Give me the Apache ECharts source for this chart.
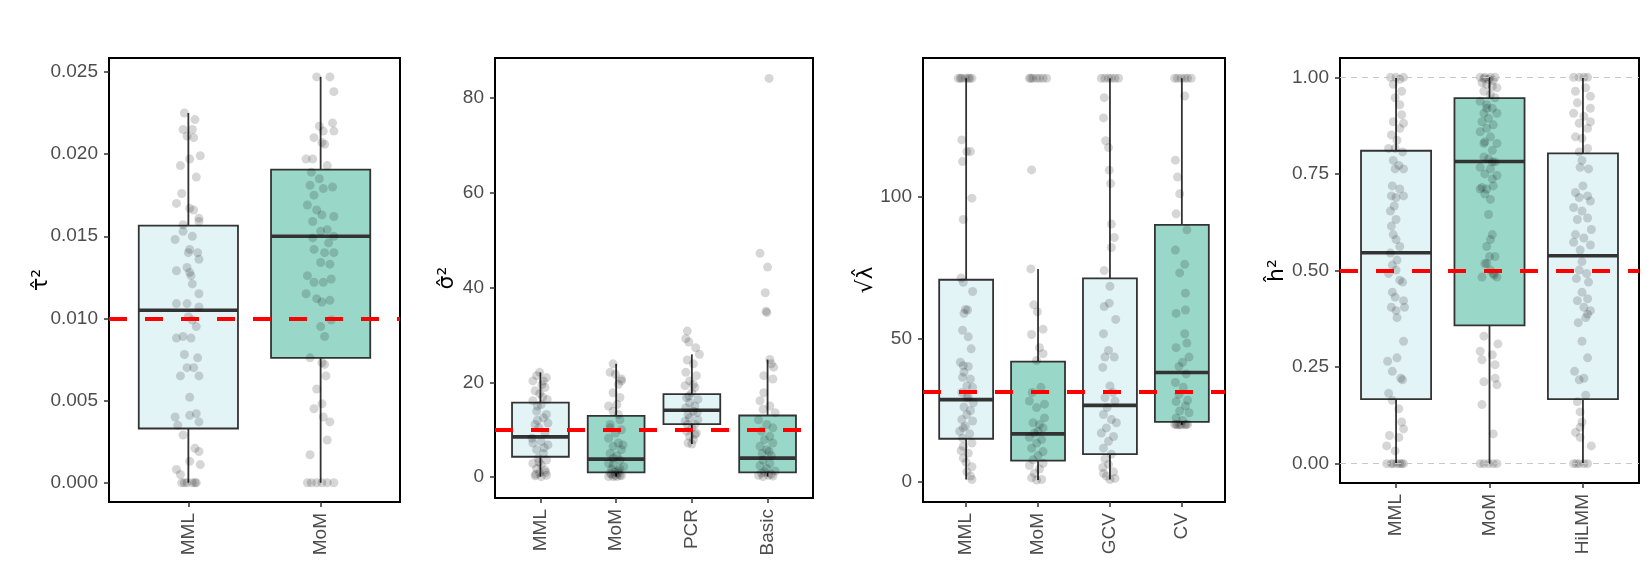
<!DOCTYPE html>
<html>
<head>
<meta charset="utf-8">
<script src="https://cdn.jsdelivr.net/npm/echarts@6/dist/echarts.min.js"></script>
<style>
  html, body { margin: 0; padding: 0; background: #fff; }
  #main { width: 1650px; height: 569px; }
</style>
</head>
<body>
<div id="main"></div>
<script>
// panel 1: tau^2
var tauCats = ['MML', 'MoM'];
var tauLow = [0, 0];
var tauQ1 = [0.0033, 0.0076];
var tauMed = [0.0105, 0.0150];
var tauQ3 = [0.01565, 0.01905];
var tauHigh = [0.0225, 0.0247];
var tauTicks = [0, 0.005, 0.01, 0.015, 0.02, 0.025];
var tauTrue = 0.01;
// jittered points: [offset from category, value]
var tauPtsMML = [[-0.03,0.0225],[0.05,0.0221],[-0.04,0.0215],[0.03,0.0215],[-0.01,0.0211],[0.04,0.0210],[0.09,0.0199],[0.01,0.0197],[-0.06,0.0193],[0.06,0.0186],[-0.05,0.0176],[-0.09,0.0170],[0.01,0.0167],[0.04,0.0166],[0.08,0.0161],[0.08,0.0159],[-0.04,0.0157],[-0.04,0.0153],[0.03,0.0150],[-0.10,0.0148],[0.01,0.0142],[0,0.0140],[0.07,0.0140],[0.08,0.0136],[-0.09,0.0129],[-0.01,0.0131],[0.01,0.0128],[0.02,0.0126],[0.03,0.0121],[0.08,0.0115],[-0.09,0.0109],[-0.01,0.0109],[0.08,0.0107],[0,0.0101],[0.03,0.0099],[0.06,0.0095],[-0.09,0.0088],[-0.04,0.0089],[0.02,0.0088],[-0.03,0.0078],[0.07,0.0076],[-0.01,0.0070],[0.04,0.0070],[-0.06,0.0065],[0.08,0.0065],[0.01,0.0052],[-0.10,0.0040],[0.01,0.0041],[0.06,0.0042],[-0.08,0.0035],[0.08,0.0037],[-0.04,0.0029],[0.05,0.0021],[0.08,0.0019],[0.01,0.0013],[0.09,0.0011],[-0.09,0.0008],[-0.06,0.0005],[-0.05,0],[-0.01,0],[0.03,0],[0.06,0],[-0.03,0],[0.05,0]];
var tauPtsMoM = [[-0.03,0.0247],[0.07,0.0247],[0.10,0.0238],[-0.01,0.0217],[0.09,0.0219],[0.10,0.0214],[0.02,0.0214],[-0.05,0.0210],[0.01,0.0207],[0.03,0.0206],[-0.06,0.0197],[-0.11,0.0197],[0.05,0.0193],[-0.07,0.0189],[-0.01,0.0185],[-0.08,0.0181],[0.09,0.0180],[0.02,0.0179],[-0.05,0.0175],[-0.10,0.0169],[-0.03,0.0166],[0.01,0.0163],[0.10,0.0162],[-0.06,0.0159],[0.05,0.0154],[0,0.0153],[0.10,0.0150],[-0.06,0.0149],[0.06,0.0146],[-0.05,0.0142],[0.03,0.0140],[0.10,0.0140],[0,0.0134],[0.07,0.0133],[-0.10,0.0126],[-0.05,0.0122],[0.02,0.0122],[0.08,0.0124],[-0.11,0.0115],[-0.03,0.0112],[0.01,0.0110],[0.07,0.0111],[0,0.0095],[0.08,0.0099],[0.03,0.0089],[-0.08,0.0076],[0.01,0.0073],[0.03,0.0072],[0.04,0.0065],[-0.03,0.0057],[0.01,0.0048],[-0.05,0.0045],[0.02,0.0040],[0.07,0.0037],[0.05,0.0026],[-0.08,0.0017],[-0.07,0],[-0.03,0],[0.01,0],[0.05,0],[0.10,0],[-0.10,0]];

// panel 2: sigma^2
var sigCats = ['MML', 'MoM', 'PCR', 'Basic'];
var sigLow = [0.1, 0.1, 7.0, 0.1];
var sigQ1 = [4.3, 1.0, 11.2, 1.0];
var sigMed = [8.5, 3.8, 14.1, 4.0];
var sigQ3 = [15.7, 12.9, 17.5, 13.0];
var sigHigh = [22.1, 23.9, 25.9, 24.8];
var sigTicks = [0, 20, 40, 60, 80];
var sigTrue = 10;
var sigPtsMML = [[-0.01,22.1],[-0.05,21.4],[0.08,21.0],[0.04,20.3],[-0.07,18.2],[-0.01,17.6],[0.06,18.9],[-0.10,16.1],[0.01,15.3],[-0.05,13.9],[0.08,13.2],[0.04,12.5],[-0.07,11.1],[-0.02,10.4],[0.06,9.3],[-0.10,7.2],[0.01,7.5],[0.10,6.8],[-0.05,5.8],[0.04,5.0],[-0.03,4.0],[0.08,3.6],[-0.10,2.9],[0.01,2.6],[-0.05,1.8],[0.06,1.5],[-0.01,0.9],[0.08,0.4],[-0.07,0.3],[0.01,0.1],[-0.11,8.2],[0.10,11.4],[-0.04,15.0],[0.03,16.9],[0.09,16.4],[-0.10,20.3],[0.02,19.5],[-0.04,12.0],[0.05,6.2],[-0.02,3.2],[0.07,1.0],[-0.06,0.6]];
var sigPtsMoM = [[-0.04,23.9],[-0.08,22.1],[0.07,20.3],[0.03,19.6],[-0.04,17.8],[0.05,16.8],[0.01,15.3],[-0.10,15.0],[-0.04,13.9],[0.05,12.1],[-0.08,11.1],[0.07,10.0],[-0.01,9.3],[-0.10,8.2],[0.03,7.2],[-0.04,6.5],[0.07,5.8],[-0.08,5.0],[0.01,4.5],[0.05,3.6],[-0.10,2.9],[-0.04,2.6],[0.10,2.2],[-0.06,1.7],[0.03,1.3],[-0.08,0.8],[-0.01,0.4],[0.07,0.3],[-0.10,0.1],[0.01,0.1],[0.05,1.8],[-0.04,4.0],[0.09,6.8],[-0.08,10.4],[0.03,13.2],[-0.01,21.7],[0.07,20.7],[-0.06,0.6],[0.03,0.8],[-0.01,1.1],[0.05,0.4],[-0.04,0.1]];
var sigPtsPCR = [[-0.06,30.8],[-0.08,29.2],[-0.04,28.5],[0.05,27.3],[0.10,25.9],[-0.06,24.7],[0.02,23.9],[-0.08,22.1],[0.06,21.4],[-0.03,20.3],[-0.09,19.3],[0.04,18.9],[0,17.8],[-0.07,16.8],[0.08,16.4],[-0.03,15.7],[0.04,15.0],[-0.08,14.6],[0.02,13.9],[-0.05,13.2],[0.07,13.6],[-0.03,12.5],[-0.09,11.8],[0.04,11.1],[0,10.4],[-0.07,9.7],[0.06,9.3],[-0.03,8.6],[0.02,7.9],[-0.05,7.2],[0,7.0],[0.04,9.0],[-0.06,11.1],[0.08,12.1],[-0.04,17.1],[0.02,19.6]];
var sigPtsBasic = [[0.02,84.1],[-0.10,47.2],[0,44.3],[-0.03,38.9],[-0.02,35.0],[-0.01,34.7],[0.03,24.8],[0.05,23.9],[0.08,23.2],[-0.05,21.4],[0.07,20.7],[-0.05,17.8],[-0.10,16.1],[0.03,15.0],[-0.06,14.3],[0.10,13.6],[-0.12,12.1],[-0.01,11.1],[0.07,10.4],[-0.08,9.7],[0.03,8.6],[-0.04,7.9],[0.07,7.2],[-0.10,6.5],[-0.01,5.8],[-0.07,5.0],[0.05,4.5],[-0.06,3.6],[0.03,2.9],[-0.10,2.4],[-0.01,1.8],[0.10,1.3],[-0.08,0.8],[0.01,0.4],[0.07,0.2],[-0.06,0.1],[-0.12,0.4],[0.05,0.6],[-0.04,1.1],[0.02,5.4]];

// panel 3: sqrt(lambda)
var lamCats = ['MML', 'MoM', 'GCV', 'CV'];
var lamLow = [0.8, 0.6, 0.8, 20.0];
var lamQ1 = [15.1, 7.4, 9.7, 21.0];
var lamMed = [28.8, 16.8, 26.8, 38.3];
var lamQ3 = [70.8, 42.1, 71.3, 90.0];
var lamHigh = [141.4, 74.6, 141.4, 141.4];
var lamTicks = [0, 50, 100];
var lamTrue = 31.62;
var lamPtsMML = [[-0.11,141.4],[-0.06,141.4],[-0.01,141.4],[0.03,141.4],[0.08,141.4],[-0.08,141.4],[0.05,141.4],[-0.06,119.8],[0.01,115.7],[0.06,115.7],[-0.05,112.2],[0.08,99.4],[-0.04,91.9],[-0.07,71.4],[-0.04,69.9],[0.09,66.7],[-0.01,60.4],[0.02,60.2],[-0.03,59.0],[-0.05,53.1],[0.03,50.8],[0.07,46.6],[-0.08,41.9],[-0.04,40.7],[0.03,40.4],[-0.03,38.4],[-0.05,36.6],[0.06,36.0],[0.01,33.6],[0.09,33.1],[-0.06,31.3],[0.03,29.8],[0.10,27.7],[-0.03,26.2],[0.06,25.0],[0.01,23.6],[-0.06,21.8],[0.09,21.3],[-0.01,19.5],[-0.09,17.7],[0.05,16.8],[-0.05,15.3],[0.08,13.6],[-0.04,12.4],[-0.07,10.9],[0.03,10.0],[-0.04,8.3],[0,6.8],[0.08,5.3],[0.01,3.5],[0.06,2.0],[0.08,0.8],[-0.04,18.9],[0.01,29.5]];
var lamPtsMoM = [[-0.12,141.4],[-0.07,141.4],[-0.02,141.4],[0.02,141.4],[0.07,141.4],[0.12,141.4],[-0.10,141.4],[-0.09,109.3],[-0.10,74.6],[-0.06,62.0],[-0.01,59.6],[0.07,53.5],[-0.09,51.6],[0.02,47.0],[0.07,44.9],[-0.02,42.5],[0.04,33.1],[-0.08,31.3],[0.09,27.2],[-0.02,26.0],[-0.07,20.7],[0.02,20.1],[0.07,18.9],[-0.05,17.1],[-0.12,15.6],[0.05,14.8],[-0.02,13.6],[-0.09,11.8],[0.07,10.6],[0,9.2],[-0.07,7.7],[0.07,6.5],[-0.12,5.7],[0.02,4.5],[-0.05,3.0],[-0.09,1.4],[0.05,0.8],[-0.02,0.6],[0.09,22.4],[-0.12,28.3],[0,17.7]];
var lamPtsGCV = [[-0.12,141.4],[-0.07,141.4],[-0.02,141.4],[0.02,141.4],[0.07,141.4],[0.12,141.4],[-0.08,134.6],[-0.09,127.5],[-0.06,119.5],[-0.02,117.1],[-0.01,109.2],[0.01,104.5],[0.02,90.3],[0.06,85.6],[0.02,82.1],[-0.08,74.0],[0,68.5],[-0.08,61.4],[-0.01,62.6],[0.08,56.9],[-0.09,51.9],[-0.02,46.0],[0.06,43.7],[-0.07,43.7],[-0.10,40.1],[0,33.6],[0.04,31.3],[-0.07,29.5],[0.07,28.3],[-0.04,26.0],[-0.09,23.6],[0.02,21.8],[0.09,20.7],[-0.05,18.9],[-0.12,17.1],[0.05,15.9],[-0.02,14.2],[-0.09,11.8],[0.02,9.7],[-0.07,8.0],[-0.02,6.1],[-0.10,5.0],[0.05,3.5],[-0.05,2.0],[0,0.8],[0.07,1.2],[-0.09,3.0]];
var lamPtsCV = [[-0.10,141.4],[-0.06,141.4],[-0.01,141.4],[0.04,141.4],[0.08,141.4],[0.13,141.4],[0.04,135.2],[-0.09,112.7],[-0.06,106.8],[-0.03,100.9],[-0.08,93.9],[0.07,88.3],[-0.09,81.2],[0.04,76.2],[-0.03,73.2],[0.05,66.1],[-0.08,59.0],[0.05,60.2],[0.04,51.9],[0.07,48.6],[-0.08,47.0],[0.10,43.7],[0.01,41.9],[-0.04,40.4],[0.06,37.8],[-0.09,34.8],[0.02,33.1],[-0.04,30.7],[0.08,28.6],[-0.08,28.1],[0.05,26.6],[-0.03,24.8],[0.10,24.2],[-0.08,22.4],[0.01,21.5],[-0.10,20.2],[-0.06,20.0],[-0.01,20.0],[0.04,20.1],[0.08,20.2],[-0.03,20.0],[-0.08,20.1],[0.06,20.0]];

// panel 4: h^2
var hCats = ['MML', 'MoM', 'HiLMM'];
var hLow = [0, 0, 0];
var hQ1 = [0.167, 0.358, 0.167];
var hMed = [0.546, 0.782, 0.538];
var hQ3 = [0.810, 0.946, 0.803];
var hHigh = [1, 1, 1];
var hTicks = [0, 0.25, 0.5, 0.75, 1];
var hTrue = 0.5;
var hPtsMML = [[-0.06,1],[0,1],[0.08,1],[0.04,0.995],[-0.03,0.982],[0.06,0.964],[-0.01,0.947],[0.04,0.929],[0.06,0.903],[-0.03,0.885],[0.08,0.881],[0.04,0.868],[-0.05,0.851],[0.01,0.837],[-0.08,0.816],[-0.01,0.816],[0.07,0.807],[-0.03,0.785],[0.03,0.772],[-0.01,0.763],[0.08,0.763],[-0.04,0.719],[0.04,0.711],[-0.05,0.693],[0,0.689],[0.08,0.693],[-0.02,0.667],[-0.06,0.654],[0,0.632],[-0.05,0.615],[-0.03,0.593],[0,0.580],[0.04,0.562],[-0.06,0.545],[0.01,0.527],[-0.04,0.514],[0,0.501],[-0.08,0.492],[0.04,0.475],[0.07,0.470],[-0.04,0.444],[-0.01,0.431],[0.08,0.422],[-0.05,0.405],[0.09,0.405],[0.01,0.378],[0,0.396],[0.08,0.317],[-0.09,0.265],[-0.04,0.239],[0.01,0.274],[0.05,0.221],[0.07,0.217],[-0.08,0.182],[-0.04,0.164],[0.03,0.142],[0.06,0.108],[0.08,0.090],[-0.07,0.073],[0.03,0.068],[-0.10,0.046],[-0.01,0.033],[-0.10,0],[-0.05,0],[0.01,0],[0.06,0],[0.08,0],[-0.03,0],[0.04,0]];
var hPtsMoM = [[-0.10,1],[-0.05,1],[0.01,1],[0.06,1],[-0.06,0.997],[-0.01,0.995],[0.04,0.992],[-0.08,0.986],[-0.03,0.982],[0.03,0.977],[0.08,0.973],[-0.06,0.964],[0.01,0.955],[0.06,0.947],[-0.10,0.938],[-0.03,0.929],[0.03,0.920],[-0.06,0.907],[0.08,0.907],[-0.01,0.894],[-0.08,0.885],[0.04,0.877],[-0.03,0.868],[-0.10,0.859],[0.01,0.846],[-0.05,0.833],[0.08,0.829],[0.03,0.811],[-0.06,0.794],[-0.01,0.789],[0.06,0.781],[-0.10,0.767],[0.01,0.763],[-0.05,0.750],[0.08,0.746],[0.03,0.737],[-0.08,0.715],[-0.03,0.711],[0.04,0.719],[0.01,0.684],[-0.05,0.698],[-0.01,0.645],[0.03,0.593],[0.01,0.580],[-0.03,0.562],[0.06,0.536],[-0.08,0.483],[0.01,0.501],[-0.03,0.518],[0.04,0.492],[-0.05,0.518],[0,0.536],[0.05,0.488],[-0.10,0.711],[0.03,0.781],[0.08,0.483],[-0.06,0.829],[-0.03,0.920],[-0.10,0.291],[0.09,0.310],[-0.06,0.330],[0.03,0.282],[-0.08,0.269],[0.06,0.256],[-0.06,0.212],[0.06,0.221],[0.08,0.204],[-0.08,0.153],[0.04,0.077],[-0.06,0],[-0.01,0],[0.04,0],[0.08,0],[-0.10,0]];
var hPtsHiLMM = [[-0.10,1],[-0.04,1],[0.01,1],[0.05,1],[-0.08,0.964],[0.03,0.973],[0.08,0.951],[-0.06,0.934],[0.08,0.920],[-0.10,0.907],[0.01,0.899],[-0.04,0.881],[0.08,0.885],[0.05,0.868],[-0.08,0.846],[-0.01,0.842],[-0.04,0.807],[0.05,0.816],[-0.01,0.785],[-0.03,0.767],[0.06,0.763],[0,0.719],[-0.08,0.702],[0.05,0.693],[-0.04,0.689],[0.08,0.680],[-0.10,0.663],[-0.01,0.654],[0.05,0.636],[-0.06,0.632],[0.09,0.606],[-0.08,0.593],[0.01,0.584],[-0.10,0.573],[-0.03,0.553],[0.08,0.566],[-0.01,0.523],[-0.04,0.501],[0.04,0.492],[-0.07,0.479],[0.06,0.470],[-0.01,0.444],[-0.06,0.422],[0.05,0.427],[0.01,0.405],[0.08,0.396],[-0.05,0.365],[0.05,0.387],[0.03,0.378],[-0.01,0.317],[0.05,0.274],[-0.09,0.239],[0.01,0.221],[-0.04,0.217],[0.03,0.177],[-0.06,0.160],[-0.03,0.134],[-0.01,0.108],[-0.03,0.094],[-0.08,0.081],[0.09,0.046],[-0.03,0.068],[-0.10,0],[-0.04,0],[0.01,0],[0.05,0],[-0.07,0]];

var FONT = 'Liberation Sans';
var LIGHT = '#E3F4F7';
var DARK = '#99D8C9';
var INK = '#333333';

var panels = [
    {cats: tauCats, low: tauLow, q1: tauQ1, med: tauMed, q3: tauQ3, high: tauHigh, pts: [tauPtsMML, tauPtsMoM],
     ticks: tauTicks, ref: tauTrue, min: -0.001175, max: 0.02585, dec: 3, name: 'τ̂²', gap: 57,
     grid: {left: 109, top: 58, width: 291, height: 444}},
    {cats: sigCats, low: sigLow, q1: sigQ1, med: sigMed, q3: sigQ3, high: sigHigh, pts: [sigPtsMML, sigPtsMoM, sigPtsPCR, sigPtsBasic],
     ticks: sigTicks, ref: sigTrue, min: -4.4, max: 88.4, dec: 0, name: 'σ̂²', gap: 37,
     grid: {left: 495, top: 58, width: 318, height: 440}},
    {cats: lamCats, low: lamLow, q1: lamQ1, med: lamMed, q3: lamQ3, high: lamHigh, pts: [lamPtsMML, lamPtsMoM, lamPtsGCV, lamPtsCV],
     ticks: lamTicks, ref: lamTrue, min: -7.07, max: 148.5, dec: 0, name: '√λ̂', gap: 46,
     grid: {left: 923, top: 58, width: 302, height: 444}},
    {cats: hCats, low: hLow, q1: hQ1, med: hMed, q3: hQ3, high: hHigh, pts: [hPtsMML, hPtsMoM, hPtsHiLMM],
     ticks: hTicks, ref: hTrue, min: -0.05, max: 1.05, dec: 2, name: 'ĥ²', gap: 52, grid0: true,
     grid: {left: 1340, top: 58, width: 299, height: 425}}
];

function renderBox(params, api) {
    var x = api.value(0);
    var lo = api.coord([x, api.value(1)]);
    var q1 = api.coord([x, api.value(2)]);
    var md = api.coord([x, api.value(3)]);
    var q3 = api.coord([x, api.value(4)]);
    var hi = api.coord([x, api.value(5)]);
    var half = api.size([0.375, 0])[0];
    var fill = params.dataIndex % 2 === 0 ? LIGHT : DARK;
    return {
        type: 'group',
        children: [
            {type: 'line', shape: {x1: lo[0], y1: lo[1], x2: q1[0], y2: q1[1]}, style: {stroke: INK, lineWidth: 1.8}},
            {type: 'line', shape: {x1: q3[0], y1: q3[1], x2: hi[0], y2: hi[1]}, style: {stroke: INK, lineWidth: 1.8}},
            {type: 'rect', shape: {x: q1[0] - half, y: q3[1], width: half * 2, height: q1[1] - q3[1]},
             style: {fill: fill, stroke: INK, lineWidth: 1.8}},
            {type: 'line', shape: {x1: md[0] - half, y1: md[1], x2: md[0] + half, y2: md[1]}, style: {stroke: INK, lineWidth: 3.6}}
        ]
    };
}

var grids = [], xAxes = [], yAxes = [], series = [];

panels.forEach(function(p, gi) {
    var n = p.cats.length;
    var idx = p.cats.map(function(c, i) { return i + 1; });
    var g = p.grid;
    g.show = true;
    g.borderColor = '#000';
    g.borderWidth = 2;
    grids.push(g);

    xAxes.push({
        gridIndex: gi, type: 'value', min: 0.4, max: n + 0.6, position: 'bottom',
        axisLine: {show: false, onZero: false}, splitLine: {show: false},
        axisTick: {show: true, length: 5, customValues: idx, lineStyle: {color: INK, width: 1.5}},
        axisLabel: {
            customValues: idx, rotate: 90, margin: 11, fontSize: 19, fontFamily: FONT, color: '#4D4D4D',
            formatter: function(v) { return p.cats[Math.round(v) - 1]; }
        }
    });

    yAxes.push({
        gridIndex: gi, type: 'value', min: p.min, max: p.max, position: 'left',
        axisLine: {show: false, onZero: false}, splitLine: {show: false},
        axisTick: {show: true, length: 5, customValues: p.ticks, lineStyle: {color: INK, width: 1.5}},
        axisLabel: {
            customValues: p.ticks, margin: 11, fontSize: 19, fontFamily: FONT, color: '#4D4D4D',
            formatter: function(v) { return v.toFixed(p.dec); }
        },
        name: p.name, nameLocation: 'middle', nameRotate: 90, nameGap: p.gap, nameMoveOverlap: false,
        nameTextStyle: {fontSize: 22, color: '#000', fontFamily: 'DejaVu Sans'}
    });

    // light dashed guides at 0 and 1 (heritability panel only)
    if (p.grid0) {
        series.push({
            type: 'line', xAxisIndex: gi, yAxisIndex: gi, data: [], z: 1, silent: true,
            markLine: {
                silent: true, symbol: ['none', 'none'], label: {show: false}, animation: false,
                lineStyle: {color: '#C8C8C8', width: 1, type: [6, 5]},
                data: [{yAxis: 0}, {yAxis: 1}]
            }
        });
    }

    var boxes = p.cats.map(function(c, i) {
        return [i + 1, p.low[i], p.q1[i], p.med[i], p.q3[i], p.high[i]];
    });
    series.push({
        type: 'custom', xAxisIndex: gi, yAxisIndex: gi, z: 2, silent: true,
        renderItem: renderBox, data: boxes
    });

    var pts = [];
    p.pts.forEach(function(list, i) {
        list.forEach(function(d) { pts.push([i + 1 + d[0], d[1]]); });
    });
    series.push({
        type: 'scatter', xAxisIndex: gi, yAxisIndex: gi, z: 3, silent: true,
        symbol: 'circle', symbolSize: 9, data: pts,
        itemStyle: {color: 'rgba(0,0,0,0.2)', borderWidth: 0}
    });

    // true value, red dashed
    series.push({
        type: 'line', xAxisIndex: gi, yAxisIndex: gi, data: [], z: 5, silent: true,
        markLine: {
            silent: true, symbol: ['none', 'none'], label: {show: false}, animation: false,
            lineStyle: {color: '#FF0000', width: 4, type: [18, 18]},
            data: [{yAxis: p.ref}]
        }
    });
});

var myChart = echarts.init(document.getElementById('main'), null, {renderer: 'canvas'});
myChart.setOption({
    animation: false,
    backgroundColor: '#fff',
    grid: grids,
    xAxis: xAxes,
    yAxis: yAxes,
    series: series
});
</script>
</body>
</html>
